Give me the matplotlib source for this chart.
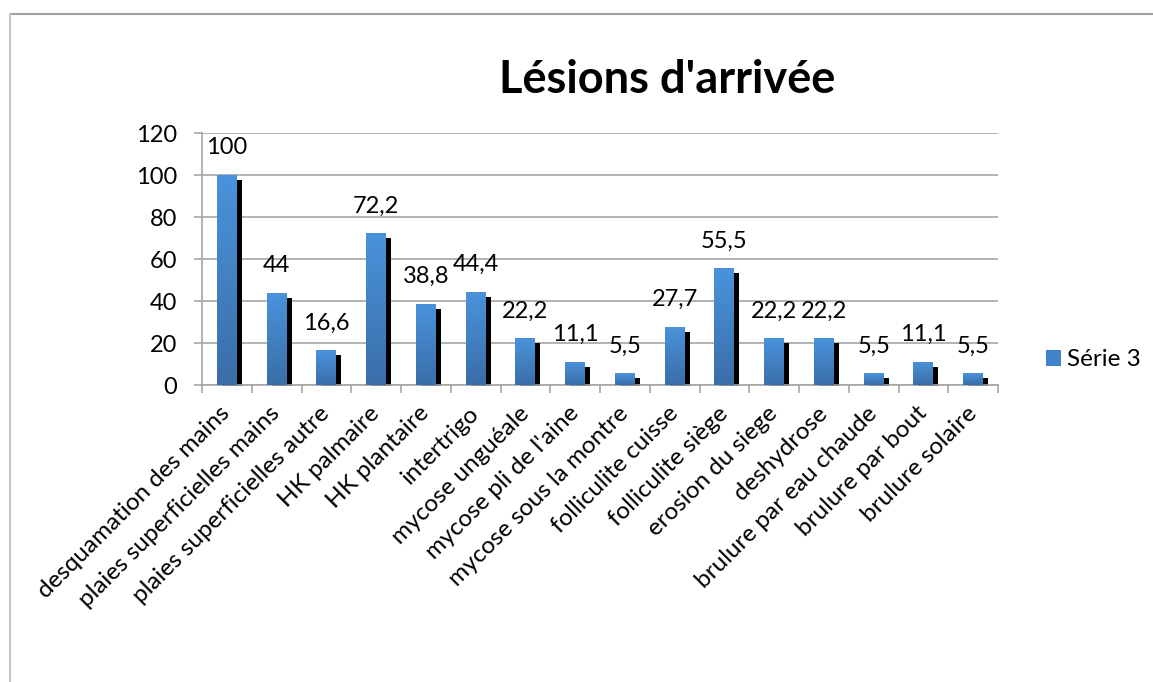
import numpy as np
import matplotlib
matplotlib.use('Agg')
import matplotlib.pyplot as plt
from matplotlib.patches import Patch
from matplotlib.colors import LinearSegmentedColormap

# Data
categories = [
    'desquamation des mains', 'plaies superficielles mains',
    'plaies superficielles autre', 'HK palmaire', 'HK plantaire',
    'intertrigo', 'mycose unguéale', "mycose pli de l'aine",
    'mycose sous la montre', 'folliculite cuisse', 'folliculite siège',
    'erosion du siege', 'deshydrose', 'brulure par eau chaude',
    'brulure par bout', 'brulure solaire',
]
values = [100, 44, 16.6, 72.2, 38.8, 44.4, 22.2, 11.1, 5.5, 27.7, 55.5,
          22.2, 22.2, 5.5, 11.1, 5.5]
series_name = 'Série 3'
title = "Lésions d'arrivée"

plt.rcParams['font.family'] = ['Lato', 'DejaVu Sans']

W, H = 1153, 682
fig = plt.figure(figsize=(W / 100, H / 100), dpi=100)
ax = fig.add_axes([202 / W, 1 - 385 / H, 796 / W, 252 / H])

x = np.arange(len(values))
bw = 0.4
grad = LinearSegmentedColormap.from_list('bar', ['#3a6ea8', '#4a93dc'])

# black drop shadow, shifted right and down by ~5 px
ax.bar(x + 0.1, np.array(values) - 1.9, width=bw, bottom=-0.5,
       color='black', zorder=2, clip_on=False)
bars = ax.bar(x, values, width=bw, color='#4282c8', zorder=3)

# vertical gradient inside each bar
g = np.linspace(0, 1, 256).reshape(-1, 1)
for b in bars:
    x0, y0 = b.get_x(), b.get_y()
    im = ax.imshow(g, cmap=grad, origin='lower', aspect='auto',
                   extent=[x0, x0 + b.get_width(), y0, y0 + b.get_height()],
                   zorder=3.5)
    im.set_clip_path(b)

for xi, v in zip(x, values):
    lab = ('%g' % v).replace('.', ',')
    ax.annotate(lab, (xi, v), xytext=(0, 19.5), textcoords='offset points',
                ha='center', va='center', fontsize=17, zorder=5)

ax.set_xlim(-0.5, len(values) - 0.5)
ax.set_ylim(0, 120)
ax.set_yticks(range(0, 121, 20))
ax.set_xticks(x)
ax.set_xticklabels(categories, rotation=45, ha='right', va='center',
                   rotation_mode='anchor', fontsize=17.5)
ax.set_xticks(np.arange(-0.5, len(values)), minor=True)
ax.tick_params(axis='x', which='major', length=0, pad=18)
ax.tick_params(axis='x', which='minor', length=6, color='#a6a6a6', width=1.2)
ax.tick_params(axis='y', length=6, color='#a6a6a6', width=1.2,
               labelsize=17, pad=12)

ax.grid(axis='y', color='#a6a6a6', linewidth=1.2, zorder=0)
ax.set_axisbelow(True)
for s in ['top', 'right']:
    ax.spines[s].set_visible(False)
for s in ['left', 'bottom']:
    ax.spines[s].set_color('#a6a6a6')
    ax.spines[s].set_linewidth(1.2)

fig.text(667 / W, 1 - 80 / H, title, ha='center', va='center',
         fontsize=32.5, fontweight='bold')

fig.legend(handles=[Patch(facecolor='#4282c8', label=series_name)],
           loc='center left', bbox_to_anchor=(1046 / W, 1 - 360 / H),
           frameon=False, fontsize=17.5, handlelength=0.62, handleheight=0.62,
           handletextpad=0.25, borderaxespad=0, borderpad=0)

# chart frame (top and left edges visible in the reference)
fig.add_artist(plt.Line2D([10 / W, 1], [1 - 13.5 / H] * 2, color='#a0a0a0',
                          linewidth=1.5, transform=fig.transFigure))
fig.add_artist(plt.Line2D([10 / W] * 2, [0, 1 - 13.5 / H], color='#c8c8c8',
                          linewidth=1.5, transform=fig.transFigure))

fig.savefig('out.png', dpi=100)
